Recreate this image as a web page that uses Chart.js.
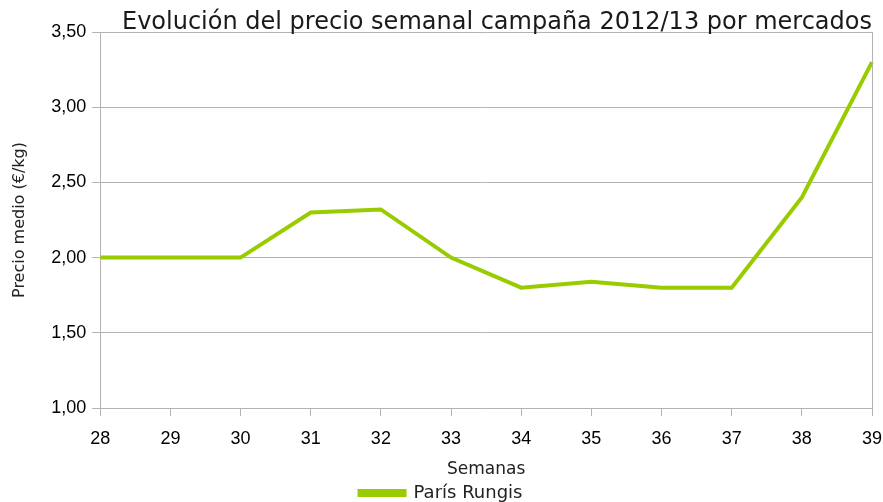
<!DOCTYPE html>
<html>
<head>
<meta charset="utf-8">
<script src="https://cdn.jsdelivr.net/npm/chart.js@4"></script>
<style>
  html, body { margin: 0; padding: 0; background: #fff; }
  #wrap { width: 883px; height: 502px; position: relative; }
</style>
</head>
<body>
<div id="wrap"><canvas id="chart"></canvas></div>
<script>
// --- DATA ---
const semanas = ['28', '29', '30', '31', '32', '33', '34', '35', '36', '37', '38', '39'];
const parisRungis = [2.00, 2.00, 2.00, 2.30, 2.32, 2.00, 1.80, 1.84, 1.80, 1.80, 2.40, 3.30];
const yTicks = [1.00, 1.50, 2.00, 2.50, 3.00, 3.50];
const chartTitle = 'Evolución del precio semanal campaña 2012/13 por mercados';

const GREEN = '#99cc00';
const GRID = '#b3b3b3';

// right border of the plot area + title right-aligned on it
const frameAndTitle = {
    id: 'frameAndTitle',
    afterDraw(chart) {
        const { ctx, chartArea } = chart;
        ctx.save();
        ctx.strokeStyle = GRID;
        ctx.lineWidth = 1;
        ctx.beginPath();
        ctx.moveTo(Math.round(chartArea.right) + 0.5, chartArea.top);
        ctx.lineTo(Math.round(chartArea.right) + 0.5, chartArea.bottom);
        ctx.stroke();

        ctx.fillStyle = '#1a1a1a';
        ctx.font = '24px "DejaVu Sans"';
        ctx.textAlign = 'right';
        ctx.textBaseline = 'alphabetic';
        ctx.fillText(chartTitle, chartArea.right, chartArea.top - 3);
        ctx.restore();
    }
};

new Chart(document.getElementById('chart'), {
    type: 'line',
    data: {
        labels: semanas,
        datasets: [{
            label: 'París Rungis',
            data: parisRungis,
            borderColor: GREEN,
            backgroundColor: GREEN,
            borderWidth: 4,
            pointRadius: 0,
            tension: 0
        }]
    },
    options: {
        responsive: true,
        maintainAspectRatio: false,
        animation: false,
        layout: { padding: { left: 10, right: 11, top: 32, bottom: -10 } },
        scales: {
            x: {
                offset: false,
                afterFit: s => { s.paddingRight = 0; },
                grid: { drawOnChartArea: false, drawTicks: true, tickLength: 8, color: GRID },
                border: { color: GRID },
                ticks: { color: '#000', font: { family: 'Liberation Sans', size: 18 }, padding: 12, maxRotation: 0 },
                title: { display: true, text: 'Semanas', color: '#222', font: { family: 'DejaVu Sans', size: 17 }, padding: { top: -2, bottom: 0 } }
            },
            y: {
                min: 1, max: 3.5,
                afterBuildTicks: axis => { axis.ticks = yTicks.map(v => ({ value: v })); },
                grid: { color: GRID, tickLength: 8 },
                border: { color: GRID },
                ticks: {
                    color: '#000',
                    font: { family: 'Liberation Sans', size: 18 },
                    padding: 6,
                    callback: v => v.toFixed(2).replace('.', ',')
                },
                title: { display: true, text: 'Precio medio (€/kg)', color: '#222', font: { family: 'DejaVu Sans', size: 16 }, padding: { top: 0, bottom: 16 } }
            }
        },
        plugins: {
            title: { display: false },
            legend: {
                position: 'bottom',
                labels: {
                    color: '#222',
                    font: { family: 'DejaVu Sans', size: 18 },
                    boxWidth: 45,
                    boxHeight: 4,
                    padding: 4
                }
            },
            tooltip: { enabled: false }
        }
    },
    plugins: [frameAndTitle]
});
</script>
</body>
</html>
